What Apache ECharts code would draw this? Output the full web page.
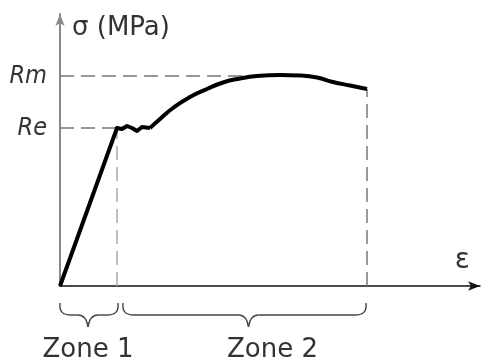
<!DOCTYPE html>
<html>
<head>
<meta charset="utf-8">
<script src="https://cdn.jsdelivr.net/npm/echarts@6/dist/echarts.min.js"></script>
<style>
  html, body { margin: 0; padding: 0; background: #fff; }
  #chart { width: 481px; height: 363px; }
</style>
</head>
<body>
<div id="chart"></div>
<script>
// 应变-应力示意曲线 (arbitrary units)
const elasticStrain = [0, 57, 62, 67, 72, 77, 82, 90];
const elasticStress = [0, 158, 157, 160, 158, 155, 159, 158];
const hardenStrain = [90, 100, 113, 130, 147, 163, 180, 197, 220, 240, 257, 273, 290, 307];
const hardenStress = [158, 167, 178, 189, 197, 203.5, 207.5, 210, 211, 210.5, 208.5, 204, 200.5, 197];

// 特征值
const Re = 158;
const Rm = 210;
const RmStrain = 223;
const yieldStrain = 57;
const breakStrain = 307;
const breakStress = 197;

const yLabels = { 158: "Re", 210: "Rm" };
const zoneNames = ["Zone 1", "Zone 2"];

const FONT = "DejaVu Sans";
const FONT_NARROW = "DejaVu Sans Condensed";
const TEXT_COLOR = "#333";
const dashStyle = { color: "#777", width: 1.5, type: [14, 7] };

function pairs(xs, ys) {
  return xs.map((x, i) => [x, ys[i]]);
}

const chart = echarts.init(document.getElementById("chart"));

chart.setOption({
  animation: false,
  grid: { left: 60, top: 14, right: 1, bottom: 77 },
  xAxis: {
    type: "value",
    min: 0,
    max: 420,
    name: "ε",
    nameLocation: "end",
    nameGap: -10,
    nameTextStyle: {
      fontFamily: FONT,
      fontSize: 28,
      color: TEXT_COLOR,
      align: "right",
      verticalAlign: "bottom",
      padding: [0, 0, 11, 0],
    },
    axisLine: {
      show: true,
      symbol: ["none", "arrow"],
      symbolSize: [7, 12],
      lineStyle: { color: "#111", width: 1.5 },
    },
    axisTick: { show: false },
    axisLabel: { show: false },
    splitLine: { show: false },
  },
  yAxis: {
    type: "value",
    min: 0,
    max: 272,
    name: "σ (MPa)",
    nameLocation: "end",
    nameGap: -14,
    nameTextStyle: {
      fontFamily: FONT,
      fontSize: 26,
      color: TEXT_COLOR,
      align: "left",
      verticalAlign: "middle",
      padding: [0, 0, 0, 12],
    },
    axisLine: {
      show: true,
      symbol: ["none", "arrow"],
      symbolSize: [7, 12],
      lineStyle: { color: "#888", width: 2 },
    },
    axisTick: { show: false },
    splitLine: { show: false },
    axisLabel: {
      show: true,
      customValues: [Re, Rm],
      formatter: (v) => yLabels[v] || "",
      fontFamily: FONT_NARROW,
      fontSize: 25,
      fontStyle: "italic",
      color: TEXT_COLOR,
      margin: 13,
    },
  },
  series: [
    // 辅助虚线
    {
      type: "line",
      data: [[0, Rm], [RmStrain, Rm]],
      showSymbol: false,
      silent: true,
      lineStyle: dashStyle,
    },
    {
      type: "line",
      data: [[0, Re], [yieldStrain, Re]],
      showSymbol: false,
      silent: true,
      lineStyle: dashStyle,
    },
    {
      type: "line",
      data: [[yieldStrain, 0], [yieldStrain, Re]],
      showSymbol: false,
      silent: true,
      lineStyle: Object.assign({}, dashStyle, { color: "#aaa" }),
    },
    {
      type: "line",
      data: [[breakStrain, 0], [breakStrain, breakStress]],
      showSymbol: false,
      silent: true,
      lineStyle: dashStyle,
    },
    // 弹性段 + 屈服平台
    {
      type: "line",
      data: pairs(elasticStrain, elasticStress),
      showSymbol: false,
      silent: true,
      lineStyle: { color: "#000", width: 4, join: "round" },
    },
    // 强化段
    {
      type: "line",
      smooth: 0.5,
      data: pairs(hardenStrain, hardenStress),
      showSymbol: false,
      silent: true,
      lineStyle: { color: "#000", width: 4 },
    },
  ],
});

// 大括号: 左右卷边 + 中间尖角
function brace(x1, x2, tip, yt) {
  const h = yt + 12;
  const style = { fill: null, stroke: "#444", lineWidth: 1.4 };
  const curve = (a, b, c1, c2) => ({
    type: "bezierCurve",
    silent: true,
    shape: { x1: a[0], y1: a[1], x2: b[0], y2: b[1], cpx1: c1[0], cpy1: c1[1], cpx2: c2[0], cpy2: c2[1] },
    style: style,
  });
  const seg = (a, b) => ({
    type: "line",
    silent: true,
    shape: { x1: a[0], y1: a[1], x2: b[0], y2: b[1] },
    style: style,
  });
  return [
    curve([x1, yt], [x1 + 11, h], [x1 - 1, yt + 9], [x1 + 3, h]),
    seg([x1 + 11, h], [tip - 10, h]),
    curve([tip - 10, h], [tip, h + 12], [tip - 4, h], [tip - 1, h + 5]),
    curve([tip, h + 12], [tip + 10, h], [tip + 1, h + 5], [tip + 4, h]),
    seg([tip + 10, h], [x2 - 11, h]),
    curve([x2 - 11, h], [x2, yt], [x2 - 3, h], [x2 + 1, yt + 9]),
  ];
}

const p0 = chart.convertToPixel({ gridIndex: 0 }, [0, 0]);
const p1 = chart.convertToPixel({ gridIndex: 0 }, [yieldStrain, 0]);
const p2 = chart.convertToPixel({ gridIndex: 0 }, [breakStrain, 0]);
const braceTop = p0[1] + 17;

const z1a = p0[0], z1b = p1[0] + 1;
const z2a = p1[0] + 6, z2b = p2[0] - 1;
const tip1 = (z1a + z1b) / 2 - 1;
const tip2 = (z2a + z2b) / 2 + 4;

function zoneText(x, text) {
  return {
    type: "text",
    silent: true,
    x: x,
    y: p0[1] + 64,
    style: {
      text: text,
      fontFamily: FONT,
      fontSize: 26,
      fill: TEXT_COLOR,
      align: "center",
      verticalAlign: "middle",
    },
  };
}

chart.setOption({
  graphic: [].concat(
    brace(z1a, z1b, tip1, braceTop),
    brace(z2a, z2b, tip2, braceTop),
    [zoneText(tip1, zoneNames[0]), zoneText(tip2 + 24, zoneNames[1])]
  ),
});
</script>
</body>
</html>
